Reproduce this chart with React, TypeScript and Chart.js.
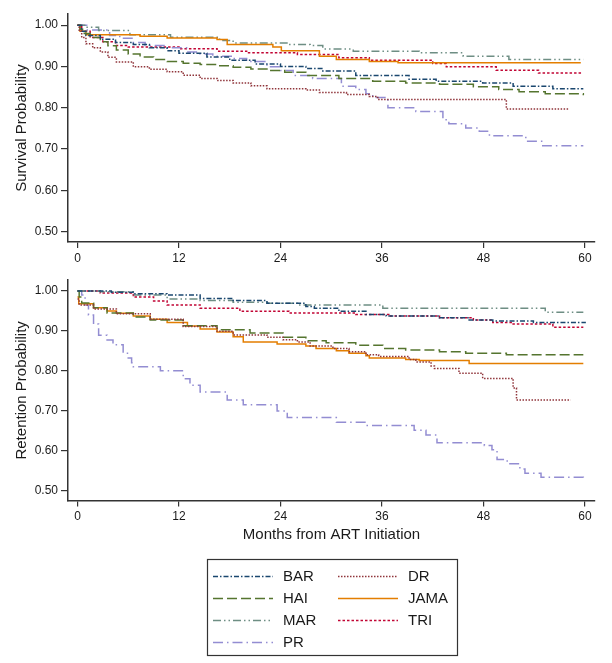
import React, { useEffect, useRef } from 'react';
import { Chart, registerables } from 'chart.js';

Chart.register(...registerables);

// ---------- data ----------
const X_TICKS = [0, 12, 24, 36, 48, 60];
const Y_TICKS = [0.5, 0.6, 0.7, 0.8, 0.9, 1.0];
const SERIES = ['BAR', 'DR', 'HAI', 'JAMA', 'MAR', 'PR', 'TRI'];
const LEGEND_ORDER = ['BAR', 'DR', 'HAI', 'JAMA', 'MAR', 'TRI', 'PR'];
const Y_TITLE_TOP = 'Survival Probability';
const Y_TITLE_BOTTOM = 'Retention Probability';
const X_TITLE = 'Months from ART Initiation';

// Survival (top panel): [month, probability] at each step
const SURV_BAR: [number, number][] = [[0, 1], [0.5, 0.985], [1, 0.975], [2.7, 0.966], [4.5, 0.958], [6.6, 0.953], [8.5, 0.945], [10.6, 0.938], [12, 0.932], [15.3, 0.923], [18, 0.915], [21, 0.906], [24, 0.9], [27, 0.895], [29, 0.889], [32.9, 0.878], [39.2, 0.869], [42.4, 0.864], [47.9, 0.86], [51.5, 0.852], [56.2, 0.846], [59.8, 0.846]];
const SURV_DR: [number, number][] = [[0, 1], [0.2, 0.985], [0.5, 0.97], [1, 0.955], [1.8, 0.945], [2.7, 0.935], [3.6, 0.922], [4.6, 0.911], [6.6, 0.899], [8.5, 0.893], [10.6, 0.887], [12.5, 0.879], [14.5, 0.871], [16.5, 0.866], [18.4, 0.86], [20.5, 0.853], [22.4, 0.846], [27, 0.843], [28.6, 0.837], [31.8, 0.832], [34.5, 0.827], [35.5, 0.82], [50.7, 0.797], [58.1, 0.797]];
const SURV_HAI: [number, number][] = [[0, 1], [0.3, 0.99], [0.8, 0.98], [1.5, 0.97], [2.7, 0.96], [3.6, 0.95], [4.6, 0.94], [6, 0.93], [7.4, 0.923], [9, 0.917], [10.6, 0.912], [12.5, 0.908], [14.5, 0.905], [16.5, 0.902], [18.4, 0.898], [20.5, 0.894], [22.4, 0.89], [24.5, 0.886], [27, 0.878], [30.9, 0.871], [34.9, 0.864], [38.8, 0.86], [42.8, 0.857], [46.8, 0.851], [49.8, 0.844], [52.2, 0.839], [55.3, 0.834], [59.8, 0.83]];
const SURV_JAMA: [number, number][] = [[0, 1], [0.3, 0.985], [1, 0.977], [7.4, 0.973], [10.6, 0.969], [16.5, 0.965], [17.7, 0.953], [23.1, 0.947], [24.1, 0.938], [28.6, 0.925], [30.6, 0.917], [34.5, 0.912], [37.9, 0.909], [59.5, 0.909]];
const SURV_MAR: [number, number][] = [[0, 1], [1, 0.995], [2.5, 0.987], [6.2, 0.977], [11, 0.971], [16.8, 0.963], [18.4, 0.957], [25, 0.953], [27.5, 0.951], [29, 0.942], [32.6, 0.937], [40.4, 0.933], [45.6, 0.925], [51, 0.917], [59.8, 0.917]];
const SURV_PR: [number, number][] = [[0, 1], [1.1, 0.988], [3.8, 0.975], [5, 0.968], [6.6, 0.958], [8, 0.951], [10.6, 0.945], [12.9, 0.935], [14.5, 0.93], [16, 0.925], [18.4, 0.919], [20, 0.912], [22.4, 0.899], [24, 0.89], [25.5, 0.878], [27.8, 0.871], [31.2, 0.852], [32.9, 0.844], [34.1, 0.834], [34.9, 0.825], [36.7, 0.8], [40, 0.791], [43.2, 0.771], [43.9, 0.761], [45.9, 0.751], [47.5, 0.743], [48.7, 0.732], [53, 0.719], [55, 0.708], [59.8, 0.708]];
const SURV_TRI: [number, number][] = [[0, 1], [0.5, 0.985], [1.5, 0.97], [3, 0.96], [4.5, 0.951], [6, 0.947], [12, 0.943], [16.5, 0.937], [20, 0.933], [26, 0.929], [30.9, 0.921], [34.5, 0.915], [42, 0.907], [43.6, 0.899], [49.5, 0.891], [54.5, 0.884], [59.7, 0.884]];

// Retention (bottom panel)
const RET_BAR: [number, number][] = [[0, 1], [4, 0.997], [6.6, 0.993], [10.6, 0.99], [14.5, 0.981], [18.4, 0.976], [22.4, 0.969], [27, 0.961], [28, 0.957], [30.9, 0.949], [34.1, 0.941], [36.5, 0.937], [42.8, 0.933], [46.3, 0.927], [49.1, 0.925], [53.9, 0.921], [60.1, 0.921]];
const RET_DR: [number, number][] = [[0, 0.98], [0.2, 0.965], [1.9, 0.955], [4.6, 0.943], [8.6, 0.929], [12.5, 0.911], [16.5, 0.899], [18.4, 0.89], [22.4, 0.884], [24.3, 0.878], [26, 0.872], [27.5, 0.862], [30.2, 0.856], [32.1, 0.848], [34.1, 0.84], [35.6, 0.836], [39.2, 0.828], [40, 0.822], [41.8, 0.812], [42.2, 0.806], [45.1, 0.794], [47.9, 0.781], [51.5, 0.757], [51.9, 0.727], [58.3, 0.727]];
const RET_HAI: [number, number][] = [[0, 1], [0.2, 0.985], [0.5, 0.97], [1.9, 0.958], [3.5, 0.945], [6.6, 0.935], [8.6, 0.927], [12.5, 0.913], [16.5, 0.903], [20.4, 0.895], [24.3, 0.884], [27, 0.875], [29.4, 0.87], [32.9, 0.864], [36.1, 0.856], [38.8, 0.852], [42.8, 0.848], [45.9, 0.844], [50.7, 0.84], [59.8, 0.84]];
const RET_JAMA: [number, number][] = [[0, 0.985], [0.15, 0.968], [1.9, 0.958], [3.5, 0.95], [4.6, 0.944], [6.6, 0.937], [8.6, 0.929], [10.6, 0.921], [13, 0.912], [14.5, 0.905], [16.5, 0.897], [18.4, 0.885], [19.6, 0.872], [23.6, 0.867], [27, 0.862], [28.2, 0.856], [30.6, 0.85], [32.1, 0.844], [34.1, 0.838], [34.5, 0.832], [38.8, 0.828], [40.4, 0.826], [46.3, 0.818], [59.8, 0.818]];
const RET_MAR: [number, number][] = [[0, 1], [2.7, 0.998], [6.6, 0.99], [10.6, 0.98], [14.5, 0.976], [18.4, 0.972], [22.4, 0.969], [26, 0.965], [36.1, 0.957], [55.3, 0.947], [59.8, 0.947]];
const RET_PR: [number, number][] = [[0, 1], [0.5, 0.99], [0.9, 0.965], [1.3, 0.94], [1.9, 0.917], [2.5, 0.889], [3.5, 0.877], [4.2, 0.865], [5.4, 0.844], [6, 0.832], [6.4, 0.82], [6.6, 0.81], [9.8, 0.8], [12.5, 0.78], [13.3, 0.764], [14.5, 0.747], [17.7, 0.727], [19.6, 0.715], [23.6, 0.699], [24.8, 0.683], [30.6, 0.671], [34.1, 0.663], [39.8, 0.651], [41.2, 0.639], [42.5, 0.62], [48.1, 0.613], [49, 0.602], [49.6, 0.578], [50.8, 0.567], [52.3, 0.554], [52.9, 0.543], [54.8, 0.533], [59.8, 0.524]];
const RET_TRI: [number, number][] = [[0, 1], [2.7, 0.995], [6.6, 0.985], [9, 0.975], [10.6, 0.965], [14.5, 0.957], [19.2, 0.949], [25, 0.945], [32.9, 0.941], [36.8, 0.937], [42.8, 0.933], [46.8, 0.927], [49.1, 0.921], [51.5, 0.917], [56.2, 0.909], [59.8, 0.909]];

const SURV_DATA: Record<string, [number, number][]> = { BAR: SURV_BAR, DR: SURV_DR, HAI: SURV_HAI, JAMA: SURV_JAMA, MAR: SURV_MAR, PR: SURV_PR, TRI: SURV_TRI };
const RET_DATA: Record<string, [number, number][]> = { BAR: RET_BAR, DR: RET_DR, HAI: RET_HAI, JAMA: RET_JAMA, MAR: RET_MAR, PR: RET_PR, TRI: RET_TRI };

// ---------- styles ----------
const COLORS: Record<string, string> = {
  BAR: '#1a476f', DR: '#90353b', HAI: '#55752f', JAMA: '#e37e00', MAR: '#6e8e84', PR: '#938dd2', TRI: '#c10534',
};
const DASHES: Record<string, number[]> = {
  BAR: [5, 2, 1.5, 2], DR: [1.5, 1.5], HAI: [10, 4], JAMA: [], MAR: [8, 3, 1.5, 3, 1.5, 3], PR: [10, 4, 1.5, 4], TRI: [2.5, 2],
};
const FONT = "'Liberation Sans', Arial, Helvetica, sans-serif";
const AXIS = '#333333';
const TEXT = '#1a1a1a';

function makeDatasets(src: Record<string, [number, number][]>) {
  return SERIES.map((label) => ({
    label,
    data: src[label].map(([x, y]) => ({ x, y })),
    borderColor: COLORS[label],
    backgroundColor: COLORS[label],
    borderDash: DASHES[label],
    borderWidth: 1.5,
    pointRadius: 0,
    stepped: true,
    fill: false,
  }));
}

const legendPlugin = {
  id: 'kmLegend',
  afterDraw(chart: any) {
    const ctx = chart.ctx as CanvasRenderingContext2D;
    ctx.save();
    ctx.setLineDash([]);
    ctx.strokeStyle = AXIS;
    ctx.lineWidth = 1.2;
    ctx.strokeRect(207.5, 289.5, 250, 96);
    ctx.font = `15px ${FONT}`;
    ctx.textBaseline = 'middle';
    ctx.textAlign = 'left';
    LEGEND_ORDER.forEach((label, i) => {
      const col = i % 2;
      const row = Math.floor(i / 2);
      const lx = col === 0 ? 213 : 338;
      const y = 306 + row * 22;
      ctx.beginPath();
      ctx.setLineDash(DASHES[label]);
      ctx.strokeStyle = COLORS[label];
      ctx.lineWidth = 1.5;
      ctx.moveTo(lx, y + 0.5);
      ctx.lineTo(lx + 60, y + 0.5);
      ctx.stroke();
      ctx.setLineDash([]);
      ctx.fillStyle = TEXT;
      ctx.fillText(label, lx + 70, y + 1);
    });
    ctx.restore();
  },
};

function makeConfig(src: Record<string, [number, number][]>, yTitle: string, bottom: boolean): any {
  return {
    type: 'line',
    data: { datasets: makeDatasets(src) },
    plugins: bottom ? [legendPlugin] : [],
    options: {
      animation: false,
      responsive: false,
      maintainAspectRatio: false,
      layout: { padding: { top: bottom ? 3 : 14, left: 0, right: 17, bottom: bottom ? 103 : 0 } },
      plugins: { legend: { display: false }, tooltip: { enabled: false } },
      scales: {
        x: {
          type: 'linear',
          min: -1.12,
          max: 61.18,
          afterBuildTicks: (s: any) => { s.ticks = X_TICKS.map((v) => ({ value: v })); },
          afterFit: (s: any) => { s.height = bottom ? 59.5 : 28; },
          grid: { display: true, drawOnChartArea: false, drawTicks: true, tickLength: 6, color: AXIS, lineWidth: 1.2 },
          border: { display: true, color: AXIS, width: 1.5 },
          ticks: { font: { family: FONT, size: 12 }, color: TEXT, padding: 3, maxRotation: 0, autoSkip: false },
          title: bottom
            ? { display: true, text: X_TITLE, font: { family: FONT, size: 15 }, color: TEXT, padding: { top: 0, bottom: 16 } }
            : { display: false },
        },
        y: {
          type: 'linear',
          min: 0.475,
          max: 1.027,
          afterBuildTicks: (s: any) => { s.ticks = Y_TICKS.map((v) => ({ value: v })); },
          afterFit: (s: any) => { s.width = 68; },
          grid: { display: true, drawOnChartArea: false, drawTicks: true, tickLength: 7, color: AXIS, lineWidth: 1.2 },
          border: { display: true, color: AXIS, width: 1.5 },
          ticks: { font: { family: FONT, size: 12 }, color: TEXT, padding: 3, callback: (v: any) => Number(v).toFixed(2) },
          title: { display: true, text: yTitle, font: { family: FONT, size: 15 }, color: TEXT, padding: { top: 13, bottom: 0 } },
        },
      },
    },
  };
}

export default function App() {
  const topRef = useRef<HTMLCanvasElement | null>(null);
  const botRef = useRef<HTMLCanvasElement | null>(null);

  useEffect(() => {
    const c1 = new Chart(topRef.current as HTMLCanvasElement, makeConfig(SURV_DATA, Y_TITLE_TOP, false));
    const c2 = new Chart(botRef.current as HTMLCanvasElement, makeConfig(RET_DATA, Y_TITLE_BOTTOM, true));
    return () => { c1.destroy(); c2.destroy(); };
  }, []);

  return (
    <div style={{ position: 'absolute', left: 0, top: 0, width: 612, height: 663, background: '#fff' }}>
      <canvas ref={topRef} width={612} height={270} style={{ position: 'absolute', left: 0, top: 0, width: 612, height: 270 }} />
      <canvas ref={botRef} width={612} height={393} style={{ position: 'absolute', left: 0, top: 270, width: 612, height: 393 }} />
    </div>
  );
}
